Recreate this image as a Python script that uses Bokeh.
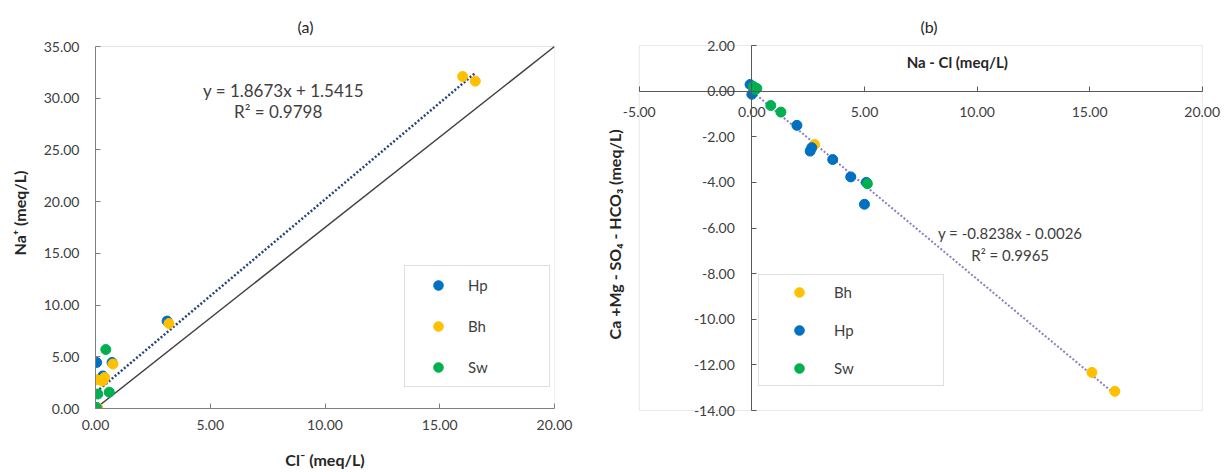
import math
from bokeh.plotting import figure
from bokeh.layouts import row
from bokeh.models import Range1d, SingleIntervalTicker, NumeralTickFormatter, Label, BoxAnnotation
from bokeh.embed import file_html
from bokeh.resources import INLINE

# ---------------- data: panel (a) Na+ vs Cl- ----------------
hp_a_x = [0.05, 0.32, 0.72, 3.12, 0.05]
hp_a_y = [4.45, 3.15, 4.45, 8.45, 0.10]
bh_a_x = [16.00, 16.55, 3.20, 0.76, 0.05, 0.40, 0.30, 0.10]
bh_a_y = [32.10, 31.65, 8.22, 4.30, 2.78, 3.00, 2.65, 0.05]
sw_a_x = [0.45, 0.10, 0.60, 0.04]
sw_a_y = [5.70, 1.40, 1.58, 0.08]
trend_a = {"slope": 1.8673, "intercept": 1.5415, "r2": 0.9798}
xlim_a = [0, 20]
ylim_a = [0, 35]

# ---------------- data: panel (b) (Ca+Mg-SO4-HCO3) vs (Na-Cl) ----------------
bh_b_x = [2.78, 15.10, 16.12]
bh_b_y = [-2.34, -12.33, -13.16]
hp_b_x = [-0.08, 0.00, 2.00, 2.66, 2.59, 3.59, 4.39, 5.08, 5.00]
hp_b_y = [0.29, -0.14, -1.50, -2.48, -2.63, -3.00, -3.76, -4.00, -4.96]
sw_b_x = [0.07, 0.15, 0.22, 0.84, 1.29, 5.13]
sw_b_y = [0.20, 0.07, 0.12, -0.63, -0.92, -4.06]
trend_b = {"slope": -0.8238, "intercept": -0.0026, "r2": 0.9965}
xlim_b = [-5, 20]
ylim_b = [-14, 2]

C_HP, C_BH, C_SW = "#0070C0", "#FFC000", "#00B050"
FONT = "Lato"
TXT = "#404040"

TOP = 17          # common top border (frames of the row are top-aligned)


def eq_text(t):
    s = "-" if t["intercept"] < 0 else "+"
    return f"y = {t['slope']:.4f}x {s} {abs(t['intercept']):.4f}", f"R² = {t['r2']:.4f}"


def style_axes(p, xint, yint):
    p.xaxis.ticker = SingleIntervalTicker(interval=xint)
    p.yaxis.ticker = SingleIntervalTicker(interval=yint)
    for ax in (p.xaxis, p.yaxis):
        ax.formatter = NumeralTickFormatter(format="0.00")
        ax.major_label_text_font = FONT
        ax.major_label_text_font_size = "14px"
        ax.major_label_text_color = TXT
        ax.major_tick_in = 5
        ax.major_tick_out = 0
        ax.minor_tick_line_color = None
        ax.axis_label_text_font = FONT
        ax.axis_label_text_font_size = "16px"
        ax.axis_label_text_font_style = "bold"
        ax.axis_label_text_color = "#262626"
    p.xgrid.grid_line_color = None
    p.ygrid.grid_line_color = None
    p.outline_line_color = None
    p.title.text = ""


def style_legend(p, loc, pad, gw, gh, spacing, standoff, lw):
    lg = p.legend[0]
    lg.location = loc
    lg.margin = 0
    lg.padding = pad
    lg.glyph_width = gw
    lg.glyph_height = gh
    lg.label_height = 20
    lg.spacing = spacing
    lg.label_standoff = standoff
    lg.label_width = lw
    lg.label_text_font = FONT
    lg.label_text_font_size = "15px"
    lg.label_text_color = TXT
    lg.border_line_color = "#bfbfbf"
    lg.border_line_width = 1
    lg.background_fill_color = "white"
    lg.background_fill_alpha = 1


# ================= panel (a) =================
FH_A = 391                      # frame height (box is 362 px, rest is room for the "(a)" label)
yr_a = [ylim_a[0], ylim_a[1] * FH_A / 362]
pa = figure(frame_width=459, frame_height=FH_A, min_border_left=95, min_border_right=41,
            min_border_top=TOP, min_border_bottom=60,
            x_range=Range1d(*xlim_a), y_range=Range1d(*yr_a),
            output_backend="svg", toolbar_location=None)
style_axes(pa, 5, 5)
pa.yaxis.bounds = tuple(ylim_a)
pa.xaxis.axis_label = "Cl⁻ (meq/L)"
pa.yaxis.axis_label = "Na⁺ (meq/L)"
pa.xaxis.major_label_standoff = 7
pa.xaxis.axis_label_standoff = 17
pa.yaxis.major_label_standoff = 12
pa.yaxis.axis_label_standoff = 12
for ax in (pa.xaxis, pa.yaxis):
    ax.axis_line_color = "#808080"
    ax.major_tick_line_color = "#808080"

pa.add_layout(BoxAnnotation(left=xlim_a[0], right=xlim_a[1], bottom=ylim_a[0], top=ylim_a[1],
                            fill_alpha=0, line_color="#a6a6a6", line_width=1, level="underlay"))
# diagonal reference line corner to corner
pa.line(xlim_a, ylim_a, line_color="#404040", line_width=1.5)
# trend line
all_xa = hp_a_x + bh_a_x + sw_a_x
tx_a = [min(all_xa), max(all_xa)]
pa.line(tx_a, [trend_a["slope"] * v + trend_a["intercept"] for v in tx_a],
        line_color="#264478", line_width=2.5, line_dash="2 2")
pa.scatter(hp_a_x, hp_a_y, size=10, fill_color=C_HP, line_color=C_HP, legend_label="Hp")
pa.scatter(bh_a_x, bh_a_y, size=10, fill_color=C_BH, line_color=C_BH, legend_label="Bh")
pa.scatter(sw_a_x, sw_a_y, size=10, fill_color=C_SW, line_color=C_SW, legend_label="Sw")
style_legend(pa, (309, 21), 7, 52, 24, 17, 4, 74)

pa.add_layout(Label(x=9.15, y=36.93, text="(a)", text_align="center", text_baseline="middle",
                    text_font=FONT, text_font_size="16px", text_color="#262626"))
eqa, r2a = eq_text(trend_a)
pa.add_layout(Label(x=8.19, y=30.78, text=eqa, text_align="center", text_baseline="middle",
                    text_font=FONT, text_font_size="17px", text_color=TXT))
pa.add_layout(Label(x=7.96, y=28.75, text=r2a, text_align="center", text_baseline="middle",
                    text_font=FONT, text_font_size="17px", text_color=TXT))

# ================= panel (b) =================
# plotting area a little larger than the drawn box so that edge tick labels are not clipped
PX_B = 365 / 16
FH_B = 404
yb_top = ylim_b[1] + 28 / PX_B
xr_b = [xlim_b[0] - 1.5, xlim_b[1] + 0.9]
yr_b = [yb_top - FH_B / PX_B, yb_top]
pb = figure(frame_width=617, frame_height=FH_B, min_border_left=10, min_border_right=0,
            min_border_top=TOP, min_border_bottom=47,
            x_range=Range1d(*xr_b), y_range=Range1d(*yr_b),
            output_backend="svg", toolbar_location=None)
style_axes(pb, 5, 2)
pb.xaxis.fixed_location = 0
pb.yaxis.fixed_location = 0
pb.xaxis.bounds = tuple(xlim_b)
pb.yaxis.bounds = tuple(ylim_b)
pb.xaxis.major_label_standoff = 12
pb.yaxis.major_label_standoff = 13
for ax in (pb.xaxis, pb.yaxis):
    ax.axis_line_color = "#595959"
    ax.major_tick_line_color = "#595959"

pb.add_layout(BoxAnnotation(left=xlim_b[0], right=xlim_b[1], bottom=ylim_b[0], top=ylim_b[1],
                            fill_alpha=0, line_color="#b3b3b3", line_width=1, level="underlay"))

all_xb = bh_b_x + hp_b_x + sw_b_x
tx_b = [min(all_xb), max(all_xb)]
pb.line(tx_b, [trend_b["slope"] * v + trend_b["intercept"] for v in tx_b],
        line_color="#8E7CC3", line_width=2, line_dash="2 2")
pb.scatter(bh_b_x, bh_b_y, size=10, fill_color=C_BH, line_color=C_BH, legend_label="Bh")
pb.scatter(hp_b_x, hp_b_y, size=10, fill_color=C_HP, line_color=C_HP, legend_label="Hp")
pb.scatter(sw_b_x, sw_b_y, size=10, fill_color=C_SW, line_color=C_SW, legend_label="Sw")
style_legend(pb, (153, 35), 5, 70, 24, 14, 0, 104)

pb.add_layout(Label(x=7.87, y=2.83, text="(b)", text_align="center", text_baseline="middle",
                    text_font=FONT, text_font_size="16px", text_color="#262626"))
pb.add_layout(Label(x=-6.1, y=-6.28, angle=math.pi / 2, text="Ca +Mg - SO₄ - HCO₃ (meq/L)",
                    text_align="center", text_baseline="middle", text_font=FONT,
                    text_font_size="16px", text_font_style="bold", text_color="#262626"))
pb.add_layout(Label(x=9.12, y=1.27, text="Na - Cl (meq/L)", text_align="center",
                    text_baseline="middle", text_font=FONT, text_font_size="15px",
                    text_font_style="bold", text_color="#262626"))
eqb, r2b = eq_text(trend_b)
pb.add_layout(Label(x=11.47, y=-6.23, text=eqb, text_align="center", text_baseline="middle",
                    text_font=FONT, text_font_size="15px", text_color=TXT))
pb.add_layout(Label(x=11.47, y=-7.18, text=r2b, text_align="center", text_baseline="middle",
                    text_font=FONT, text_font_size="15px", text_color=TXT))

layout = row(pa, pb)
open("out.html", "w").write(file_html(layout, INLINE))
